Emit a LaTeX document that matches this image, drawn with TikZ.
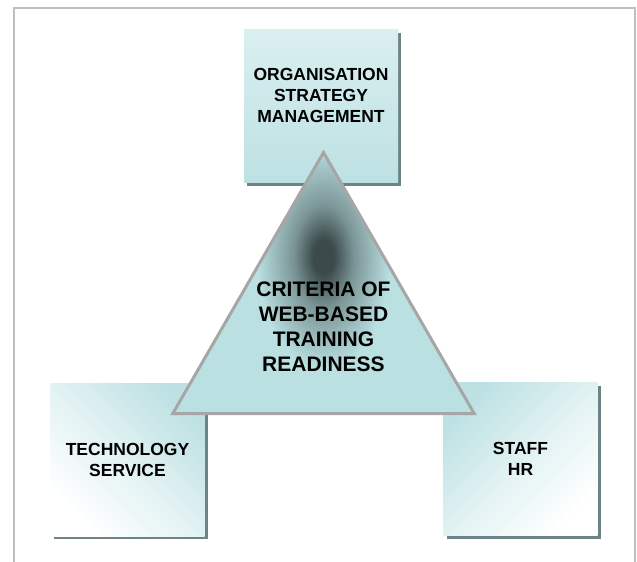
\documentclass[tikz,border=0pt]{standalone}
\usepackage{fontspec}
\setmainfont{Liberation Sans}
\usetikzlibrary{shapes.geometric}
\usetikzlibrary{shadows}
\usetikzlibrary{positioning}
\definecolor{boxblue}{HTML}{BDE1E3}
\definecolor{boxpale}{HTML}{DAEFF0}
\definecolor{shadowgray}{HTML}{6C8486}
\definecolor{trifill}{HTML}{BAE0E2}
\definecolor{tridark}{HTML}{3C4A4B}
\definecolor{trigray}{HTML}{A6A6A6}
\definecolor{framegray}{HTML}{BFBFBF}
\pgfdeclareradialshading{coreshade}{\pgfpoint{0bp}{0bp}}{%
  color(0bp)=(tridark); color(1bp)=(tridark); color(3bp)=(tridark!50!trifill);
  color(6.5bp)=(trifill); color(50bp)=(trifill)}
\tikzset{%
  factor/.style={minimum width=154pt, minimum height=153pt, inner sep=0pt,
    align=center, font=\bfseries\fontsize{17.5}{21}\selectfont,
    drop shadow={shadow xshift=3pt, shadow yshift=-3pt, fill=shadowgray,
    opacity=1}},% one of the three boxes
  core/.style={shape=regular polygon, regular polygon sides=3,
    minimum size=348pt, inner sep=-60pt, fill=trifill,
    draw=trigray, line width=3pt, align=center,
    font=\bfseries\fontsize{21}{25}\selectfont,
    path picture={\shade[shading=coreshade]
      ([yshift=26pt]path picture bounding box.center) ellipse (255pt and 430pt);}}% the triangle in the middle
}
\begin{document}
\begin{tikzpicture}[x=1pt, y=-1pt]
  \useasboundingbox (0,0) rectangle (637,562);
  % frame, open at the bottom
  \draw[framegray, line width=1.5pt] (14,562) |- (635,8) -- (635,562);
  % the three boxes
  \node[factor, top color=boxpale, bottom color=boxblue] (org) at (321,106)
    {ORGANISATION\\STRATEGY\\MANAGEMENT\\\mbox{}};
  \node[factor, top color=boxblue, bottom color=white, middle color=white!55!boxblue,
    shading angle=-45] (tech) at (127.5,459.5) {TECHNOLOGY\\SERVICE};
  \node[factor, top color=boxblue, bottom color=white, middle color=white!55!boxblue,
    shading angle=45] (staff) at (520.5,459) {STAFF\\HR};
  % the triangle on top of them
  \node[core] (crit) at (323.5,326.5)
    {CRITERIA OF\\WEB-BASED\\TRAINING\\READINESS};
\end{tikzpicture}
\end{document}
